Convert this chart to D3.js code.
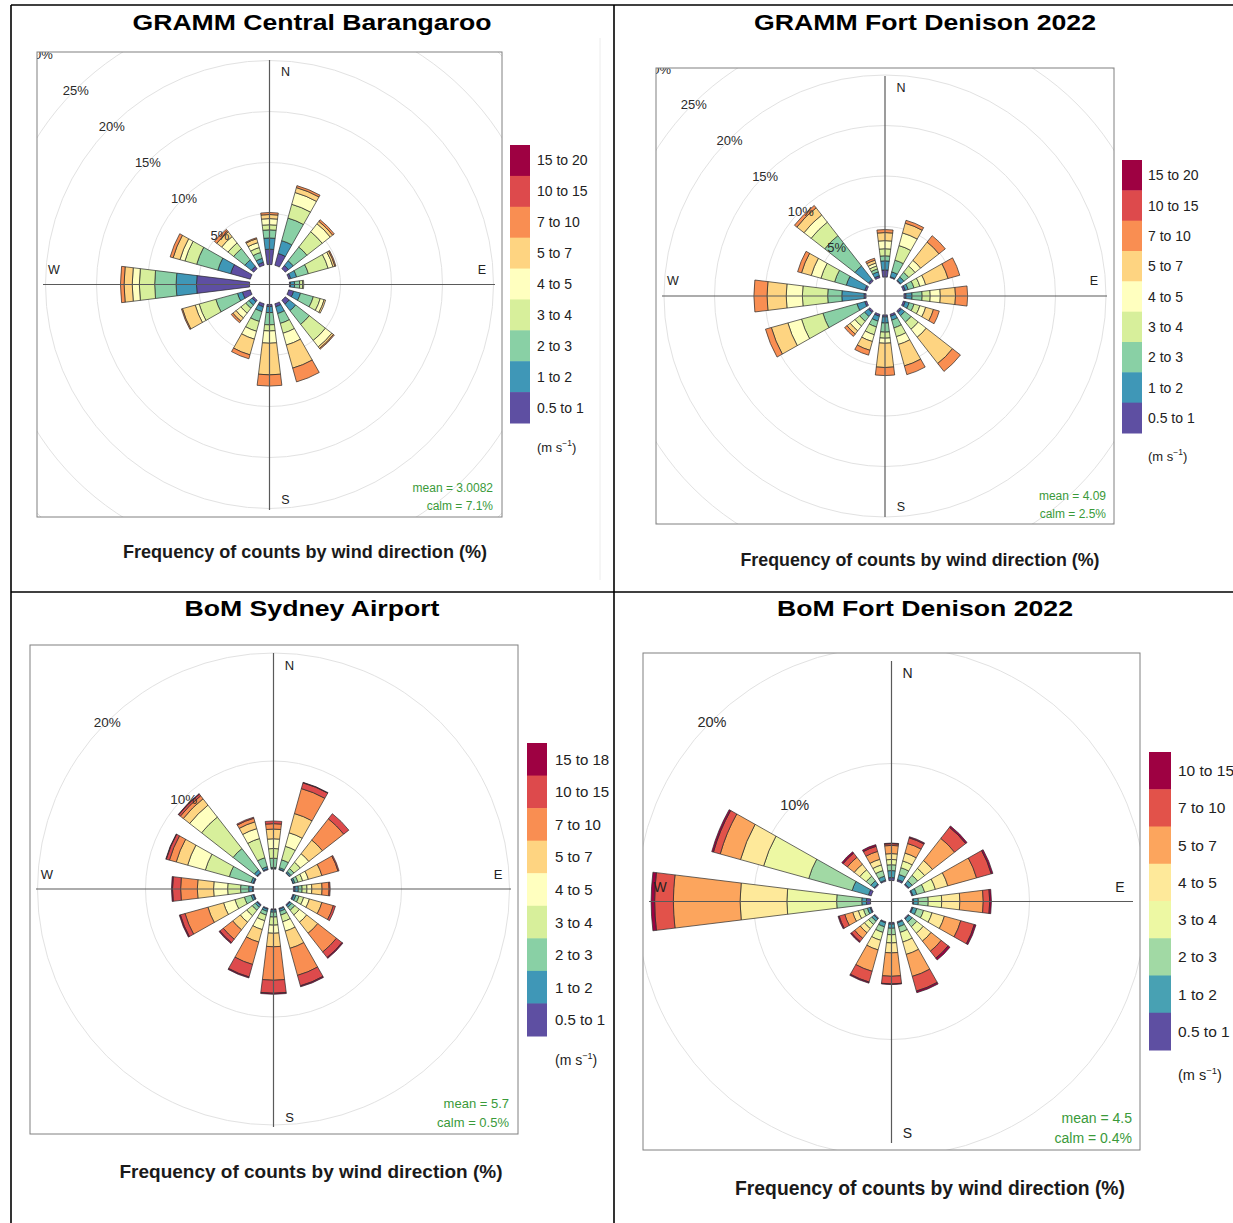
<!DOCTYPE html>
<html>
<head>
<meta charset="utf-8">
<script src="https://cdn.jsdelivr.net/npm/d3@7"></script>
<style>
  body { margin: 0; background: #fff; }
  svg { display: block; font-family: Arial, "Liberation Sans", sans-serif; }
</style>
</head>
<body>
<script>
// ---- data (frequency % per direction, per wind speed bin) ----
const directions = ["N","NNE","NE","ENE","E","ESE","SE","SSE","S","SSW","SW","WSW","W","WNW","NW","NNW"];

const binsGramm = ["0.5 to 1","1 to 2","2 to 3","3 to 4","4 to 5","5 to 7","7 to 10","10 to 15","15 to 20"];
const binsAirport = ["0.5 to 1","1 to 2","2 to 3","3 to 4","4 to 5","5 to 7","7 to 10","10 to 15","15 to 18"];
const binsBomDenison = ["0.5 to 1","1 to 2","2 to 3","3 to 4","4 to 5","5 to 7","7 to 10","10 to 15"];

const barangarooFreq = [
  [1.5,1.1,0.8,0.5,0.6,0.4,0.2,0,0],
  [1.2,1.3,2.3,1.4,1.2,0.5,0.2,0,0],
  [0.4,0.6,1.7,1.9,1.0,0.3,0.2,0,0],
  [0.2,0.6,1.2,2.0,0.5,0.2,0.1,0,0],
  [0.1,0.4,0.5,0.3,0.1,0,0,0,0],
  [0.5,0.7,1.3,0.7,0.4,0.15,0,0,0],
  [0.5,0.8,1.7,2.0,0.8,0.2,0.1,0,0],
  [0.3,0.7,1.0,1.0,1.2,2.35,1.4,0,0],
  [0.2,0.6,1.2,0.6,1.2,3.1,1.1,0,0],
  [0.3,0.5,1.0,1.0,0.8,1.6,0.4,0,0],
  [0.2,0.4,0.4,0.6,0.6,0.4,0.2,0,0],
  [0.8,0.5,2.2,1.7,0.4,1.3,0.1,0,0],
  [5.2,2.0,2.1,1.5,0.7,0.8,0.35,0,0],
  [2.0,1.3,2.15,1.2,0.5,0.7,0.3,0,0],
  [0.3,0.8,1.4,0.7,0.8,0.6,0.3,0,0],
  [0.3,0.4,0.6,0.5,0.5,0.4,0.1,0,0]
];

const grammDenisonFreq = [
  [0.7,0.9,0.5,0.7,0.8,0.8,0.3,0,0],
  [0.1,0.5,1.2,1.5,1.3,1.0,0.3,0,0],
  [0.1,0.4,0.6,0.8,0.7,2.3,0.8,0,0],
  [0.2,0.3,0.6,0.6,0.6,2.3,1.2,0,0],
  [0.2,0.6,1.0,0.8,1.0,1.5,1.2,0,0],
  [0.2,0.4,0.5,0.6,0.6,0.8,0.6,0,0],
  [0.2,0.4,0.8,0.9,1.0,3.3,1.0,0,0],
  [0.2,0.4,0.8,0.9,0.8,2.2,0.9,0,0],
  [0.2,0.6,0.9,0.6,0.5,2.4,0.8,0,0],
  [0.2,0.5,0.6,0.8,0.7,0.9,0.5,0,0],
  [0.2,0.5,0.6,0.6,0.6,0.4,0.3,0,0],
  [0.2,0.8,3.5,2.2,1.4,1.7,0.6,0,0],
  [0.2,2.2,1.4,2.5,1.6,1.9,1.3,0,0],
  [0.2,1.9,1.2,1.4,1.0,1.0,0.4,0,0],
  [0.2,1.7,3.8,1.7,0.9,0.9,0.3,0,0],
  [0.2,0.4,0.3,0.3,0.3,0.3,0.2,0,0]
];

const airportFreq = [
  [0.05,0.1,0.85,0.9,0.9,0.9,0.5,0.25,0],
  [0.05,0.15,0.75,1.3,1.3,1.85,2.4,0.55,0.05],
  [0.05,0.15,0.35,0.75,1.0,1.6,2.5,0.6,0],
  [0.05,0.15,0.3,0.45,0.55,1.3,1.55,0.1,0],
  [0.15,0.3,0.35,0.45,0.45,0.95,0.65,0.1,0],
  [0.1,0.2,0.3,0.45,0.55,1.2,1.1,0.2,0],
  [0.1,0.2,0.35,0.55,0.85,1.3,2.2,0.65,0.1],
  [0.1,0.2,0.35,0.65,0.9,1.65,2.6,1.0,0.1],
  [0.1,0.2,0.45,0.75,0.75,1.25,3.1,1.2,0.1],
  [0.1,0.2,0.35,0.55,0.85,1.2,2.15,1.2,0.1],
  [0.1,0.2,0.35,0.65,0.75,0.9,1.1,0.4,0.1],
  [0.1,0.2,0.65,0.9,1.1,1.5,2.2,0.45,0.1],
  [0.1,0.35,0.75,1.2,1.3,1.5,1.55,0.75,0.1],
  [0.1,0.2,2.1,2.3,1.7,1.1,0.65,0.3,0.05],
  [0.1,0.3,2.5,3.7,1.4,0.75,0.35,0.2,0.05],
  [0.1,0.2,0.85,1.85,0.95,0.65,0.35,0.1,0]
];

const bomDenisonFreq = [
  [0.25,0.6,0.5,0.45,0.5,0.7,0.15,0.05],
  [0.15,0.45,0.6,0.6,0.7,0.85,0.5,0.1],
  [0.1,0.35,0.6,0.75,0.85,2.4,1.2,0.15],
  [0.1,0.35,0.7,0.95,1.1,2.55,1.3,0.15],
  [0.1,0.4,0.85,1.15,1.55,2.0,0.55,0.15],
  [0.1,0.35,0.6,0.75,1.1,1.45,1.2,0.15],
  [0.1,0.35,0.5,0.7,0.85,1.1,0.75,0.2],
  [0.1,0.35,0.5,0.85,1.1,1.95,1.3,0.15],
  [0.15,0.35,0.55,0.7,0.85,2.0,0.65,0.05],
  [0.1,0.35,0.5,0.7,0.85,1.9,0.95,0.1],
  [0.1,0.25,0.35,0.45,0.45,0.6,0.35,0.1],
  [0.1,0.25,0.35,0.45,0.5,0.7,0.5,0.1],
  [0.35,0.4,2.15,4.25,4.0,5.7,1.6,0.3],
  [0.25,1.45,3.85,4.0,2.05,1.8,0.6,0.15],
  [0.1,0.35,0.5,0.7,0.6,0.75,0.45,0.15],
  [0.1,0.35,0.5,0.5,0.5,0.7,0.45,0.15]
];

const ringsGramm = [5, 10, 15, 20, 25, 30];
const ringsBom = [10, 20];

// spectral palette, linear ramp like openair
const spectral = ["#9E0142","#D53E4F","#F46D43","#FDAE61","#FEE08B","#FFFFBF","#E6F598","#ABDDA4","#66C2A5","#3288BD","#5E4FA2"];
function binColours(n) {
  return d3.quantize(d3.piecewise(d3.interpolateRgb, spectral), n).reverse();
}

var panels = [
  { title: "GRAMM Central Barangaroo", tx: 312, ty: 30, tw: 359,
    box: [37, 52, 502, 517], cx: 269.5, cy: 284.5, px: 10.2, hole: 20,
    rings: ringsGramm, font: 13, cfont: 12.5, data: barangarooFreq, bins: binsGramm,
    leg: { x: 510, y: 145, w: 20, h: 278, lx: 537, font: 14, unitY: 447 },
    mean: "mean = 3.0082", calm: "calm = 7.1%", sx: 493, my: 488, cy2: 506, sfont: 12,
    fx: 305, fy: 558, fw: 364, ffont: 18 },
  { title: "GRAMM Fort Denison 2022", tx: 925, ty: 30, tw: 342,
    box: [656, 68, 1114, 524], cx: 885, cy: 296, px: 10.1, hole: 19,
    rings: ringsGramm, font: 13, cfont: 12.5, data: grammDenisonFreq, bins: binsGramm,
    leg: { x: 1122, y: 160, w: 20, h: 273, lx: 1148, font: 14, unitY: 456 },
    mean: "mean = 4.09", calm: "calm = 2.5%", sx: 1106, my: 496, cy2: 514, sfont: 12,
    fx: 920, fy: 566, fw: 359, ffont: 18 },
  { title: "BoM Sydney Airport", tx: 312, ty: 616, tw: 255,
    box: [30, 645, 518, 1134], cx: 273.5, cy: 889, px: 10.8, hole: 20,
    rings: ringsBom, font: 13.5, cfont: 13, data: airportFreq, bins: binsAirport,
    leg: { x: 527, y: 743, w: 20, h: 293, lx: 555, font: 15, unitY: 1060 },
    mean: "mean = 5.7", calm: "calm = 0.5%", sx: 509, my: 1103, cy2: 1122, sfont: 13,
    fx: 311, fy: 1178, fw: 383, ffont: 19 },
  { title: "BoM Fort Denison 2022", tx: 925, ty: 616, tw: 296,
    box: [643, 653, 1140, 1150], cx: 891.5, cy: 901.5, px: 11.7, hole: 21,
    rings: ringsBom, font: 14.5, cfont: 14, data: bomDenisonFreq, bins: binsBomDenison,
    leg: { x: 1149, y: 752, w: 22, h: 298, lx: 1178, font: 15.5, unitY: 1075 },
    mean: "mean = 4.5", calm: "calm = 0.4%", sx: 1132, my: 1118, cy2: 1138, sfont: 14,
    fx: 930, fy: 1195, fw: 390, ffont: 19.5 }
];

var svg = d3.select("body").append("svg")
  .attr("width", 1233)
  .attr("height", 1223);

svg.append("rect").attr("width", 1233).attr("height", 1223).attr("fill", "#fff");

// faint screenshot edge in first panel
svg.append("line").attr("x1", 600).attr("x2", 600).attr("y1", 38).attr("y2", 580)
  .attr("stroke", "#ececec").attr("stroke-width", 1);

var defs = svg.append("defs");
var halfWedge = 7 * Math.PI / 180;

panels.forEach(function (p, i) {
  var x0 = p.box[0], y0 = p.box[1], x1 = p.box[2], y1 = p.box[3];
  var colours = binColours(p.bins.length);
  var maxRing = d3.max(p.rings);

  var r = d3.scaleLinear()
    .domain([0, maxRing])
    .range([p.hole, p.hole + p.px * maxRing]);

  defs.append("clipPath").attr("id", "clip" + i)
    .append("rect").attr("x", x0).attr("y", y0).attr("width", x1 - x0).attr("height", y1 - y0);

  var g = svg.append("g");

  g.append("rect")
    .attr("x", x0).attr("y", y0).attr("width", x1 - x0).attr("height", y1 - y0)
    .attr("fill", "#fff");

  var plot = g.append("g").attr("clip-path", "url(#clip" + i + ")");
  var centre = plot.append("g").attr("transform", "translate(" + p.cx + "," + p.cy + ")");

  // grid circles
  centre.selectAll("circle.ring")
    .data(p.rings)
    .join("circle")
    .attr("class", "ring")
    .attr("r", d => r(d))
    .attr("fill", "none")
    .attr("stroke", "#e2e2e2")
    .attr("stroke-width", 1);

  // stacked wedges
  var segs = [];
  p.data.forEach(function (row, di) {
    var a = di * 22.5 * Math.PI / 180;
    var cum = Array.from(d3.cumsum(row));
    row.forEach(function (v, j) {
      if (v > 0) segs.push({ dir: directions[di], a: a, lo: cum[j] - v, hi: cum[j], bin: j });
    });
  });

  var arc = d3.arc()
    .innerRadius(d => r(d.lo))
    .outerRadius(d => r(d.hi))
    .startAngle(d => d.a - halfWedge)
    .endAngle(d => d.a + halfWedge);

  centre.selectAll("path.seg")
    .data(segs)
    .join("path")
    .attr("class", "seg")
    .attr("d", arc)
    .attr("fill", d => colours[d.bin])
    .attr("stroke", "#2a2a2a")
    .attr("stroke-width", 0.7);

  // axes
  plot.append("line").attr("x1", p.cx).attr("x2", p.cx).attr("y1", y0 + 8).attr("y2", y1 - 7)
    .attr("stroke", "#5a5a5a").attr("stroke-width", 1.2);
  plot.append("line").attr("x1", x0 + 6).attr("x2", x1 - 7).attr("y1", p.cy).attr("y2", p.cy)
    .attr("stroke", "#5a5a5a").attr("stroke-width", 1.2);

  // ring labels along the NW diagonal
  centre.selectAll("text.ringlab")
    .data(p.rings)
    .join("text")
    .attr("class", "ringlab")
    .attr("x", d => -(r(d) - 1) * Math.SQRT1_2)
    .attr("y", d => -(r(d) - 1) * Math.SQRT1_2)
    .attr("text-anchor", "middle")
    .attr("dominant-baseline", "central")
    .attr("font-size", p.font)
    .attr("fill", "#2a2a2a")
    .text(d => d + "%");

  // compass labels
  var compass = [
    { t: "N", x: p.cx + 16, y: y0 + 20 },
    { t: "S", x: p.cx + 16, y: y1 - 17 },
    { t: "W", x: x0 + 17, y: p.cy - 15 },
    { t: "E", x: x1 - 20, y: p.cy - 15 }
  ];
  plot.selectAll("text.cmp")
    .data(compass)
    .join("text")
    .attr("class", "cmp")
    .attr("x", d => d.x).attr("y", d => d.y)
    .attr("text-anchor", "middle")
    .attr("dominant-baseline", "central")
    .attr("font-size", p.cfont)
    .attr("fill", "#222")
    .text(d => d.t);

  // mean / calm
  g.append("text").attr("x", p.sx).attr("y", p.my)
    .attr("text-anchor", "end").attr("dominant-baseline", "central")
    .attr("font-size", p.sfont).attr("fill", "#3a9a3a").text(p.mean);
  g.append("text").attr("x", p.sx).attr("y", p.cy2)
    .attr("text-anchor", "end").attr("dominant-baseline", "central")
    .attr("font-size", p.sfont).attr("fill", "#3a9a3a").text(p.calm);

  // box border
  g.append("rect")
    .attr("x", x0).attr("y", y0).attr("width", x1 - x0).attr("height", y1 - y0)
    .attr("fill", "none").attr("stroke", "#808080").attr("stroke-width", 1);

  // legend, highest bin on top
  var legBins = p.bins.map((b, j) => ({ label: b, colour: colours[j] })).reverse();
  var ly = d3.scaleBand()
    .domain(legBins.map(d => d.label))
    .range([p.leg.y, p.leg.y + p.leg.h]);

  var leg = g.selectAll("g.leg")
    .data(legBins)
    .join("g")
    .attr("class", "leg");

  leg.append("rect")
    .attr("x", p.leg.x)
    .attr("y", d => ly(d.label))
    .attr("width", p.leg.w)
    .attr("height", ly.bandwidth() + 0.5)
    .attr("fill", d => d.colour);

  leg.append("text")
    .attr("x", p.leg.lx)
    .attr("y", d => ly(d.label) + ly.bandwidth() / 2)
    .attr("dominant-baseline", "central")
    .attr("font-size", p.leg.font)
    .attr("fill", "#222")
    .text(d => d.label);

  var unit = g.append("text")
    .attr("x", p.leg.lx)
    .attr("y", p.leg.unitY + p.leg.font * 0.35)
    .attr("font-size", p.leg.font - 1)
    .attr("fill", "#222");
  unit.append("tspan").text("(m s");
  unit.append("tspan").attr("dy", -6).attr("font-size", (p.leg.font - 1) * 0.65).text("\u22121");
  unit.append("tspan").attr("dy", 6).text(")");

  // titles
  svg.append("text")
    .attr("x", p.tx).attr("y", p.ty)
    .attr("text-anchor", "middle")
    .attr("font-size", 22).attr("font-weight", "bold")
    .attr("textLength", p.tw).attr("lengthAdjust", "spacingAndGlyphs")
    .attr("fill", "#000")
    .text(p.title);

  svg.append("text")
    .attr("x", p.fx).attr("y", p.fy)
    .attr("text-anchor", "middle")
    .attr("font-size", p.ffont).attr("font-weight", "bold")
    .attr("textLength", p.fw).attr("lengthAdjust", "spacingAndGlyphs")
    .attr("fill", "#1a1a1a")
    .text("Frequency of counts by wind direction (%)");
});

// panel frame lines
var frame = [
  [11, 5, 1233, 5],
  [11, 5, 11, 1223],
  [614, 5, 614, 1223],
  [11, 592, 1233, 592]
];
svg.selectAll("line.frame")
  .data(frame)
  .join("line")
  .attr("class", "frame")
  .attr("x1", d => d[0]).attr("y1", d => d[1])
  .attr("x2", d => d[2]).attr("y2", d => d[3])
  .attr("stroke", "#000")
  .attr("stroke-width", 1.6);
</script>
</body>
</html>
